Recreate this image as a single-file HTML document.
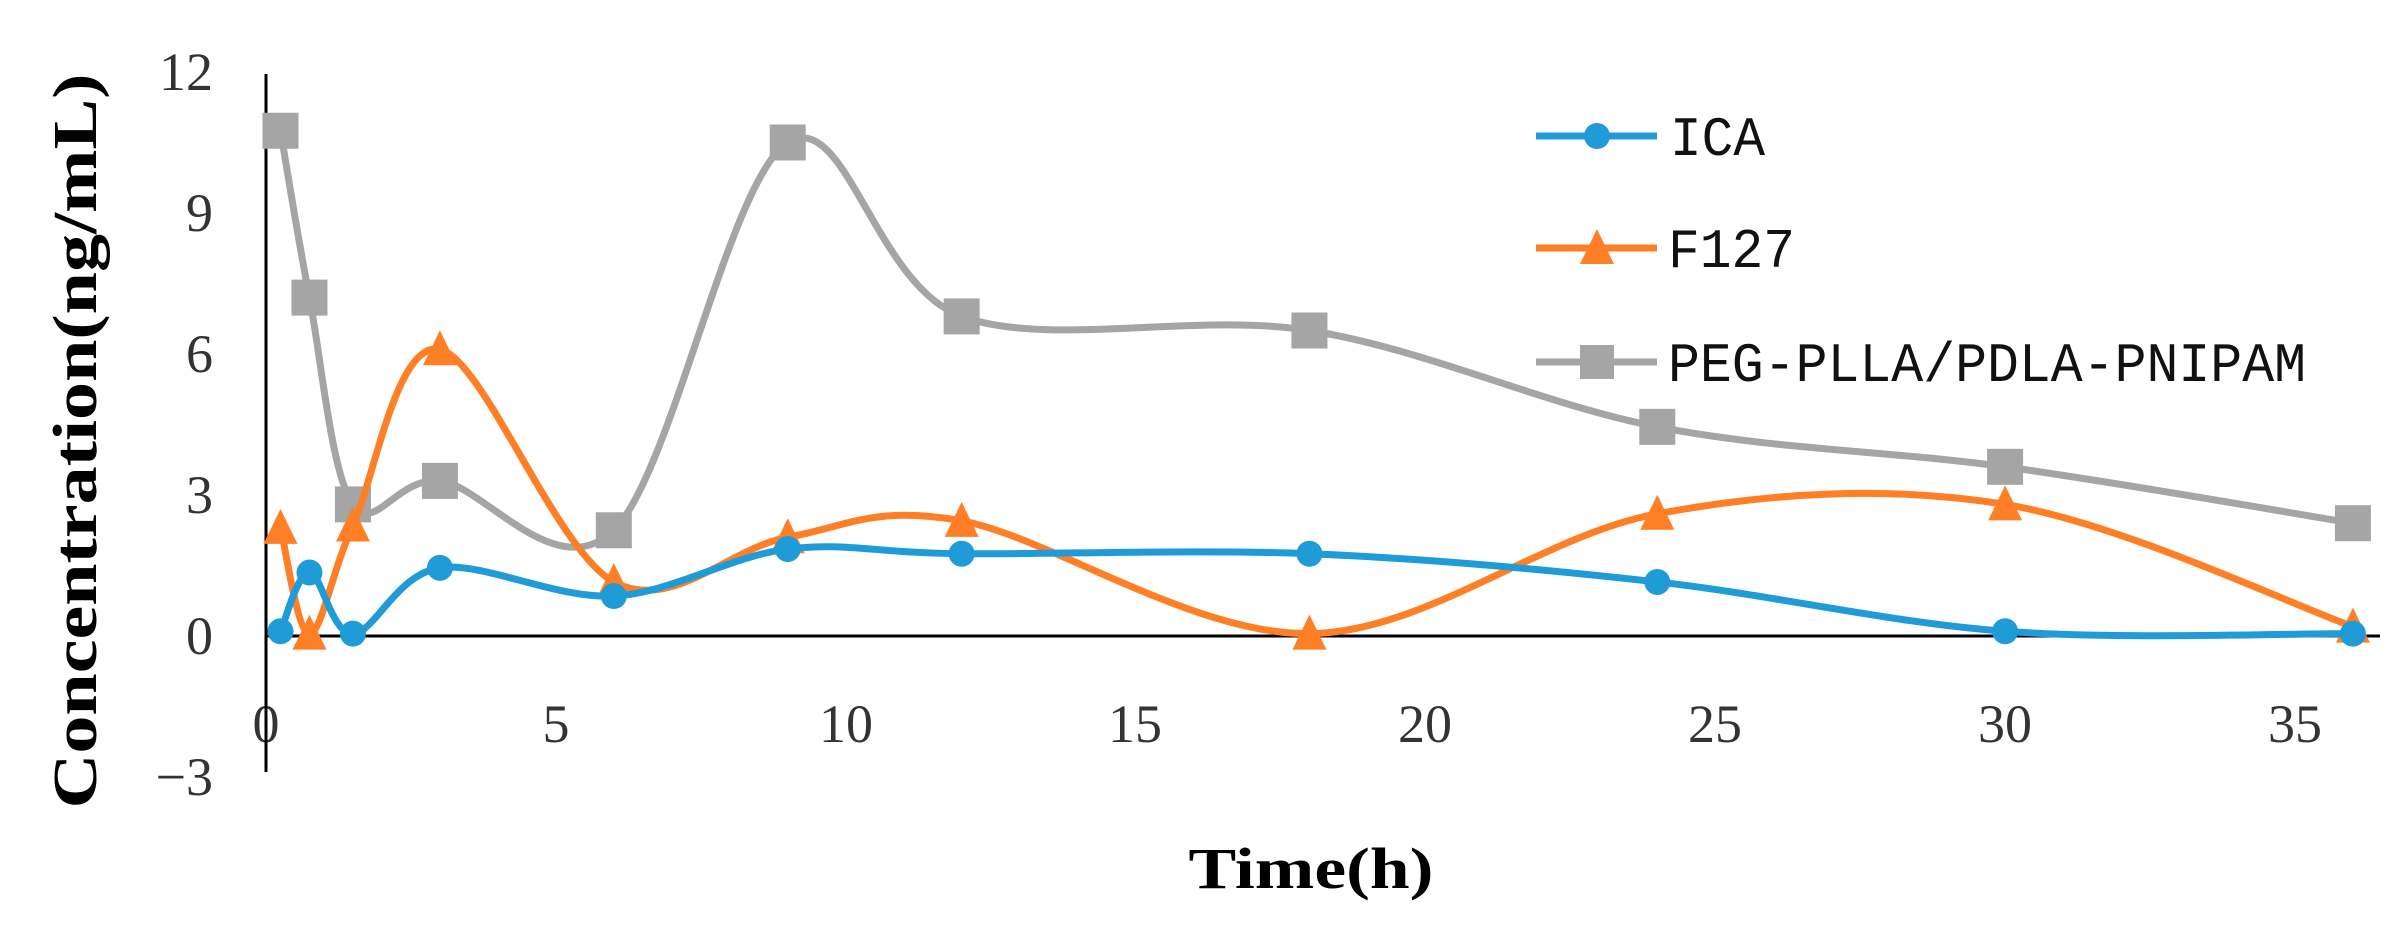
<!DOCTYPE html>
<html><head><meta charset="utf-8"><style>
html,body{margin:0;padding:0;background:#fff;}
svg{display:block;}
</style></head><body>
<svg id="c" width="2404" height="932" xmlns="http://www.w3.org/2000/svg">
<rect width="2404" height="932" fill="#fff"/>
<g font-family="Liberation Serif, serif" font-size="54" fill="#333">
<text x="213" y="90" text-anchor="end">12</text>
<text x="213" y="231" text-anchor="end">9</text>
<text x="213" y="372" text-anchor="end">6</text>
<text x="213" y="513" text-anchor="end">3</text>
<text x="213" y="654" text-anchor="end">0</text>
<text x="213" y="795" text-anchor="end">−3</text>
<text x="266" y="742" text-anchor="middle">0</text>
<text x="556" y="742" text-anchor="middle">5</text>
<text x="846" y="742" text-anchor="middle">10</text>
<text x="1135" y="742" text-anchor="middle">15</text>
<text x="1425" y="742" text-anchor="middle">20</text>
<text x="1715" y="742" text-anchor="middle">25</text>
<text x="2005" y="742" text-anchor="middle">30</text>
<text x="2295" y="742" text-anchor="middle">35</text>
</g>
<text x="1311" y="888" text-anchor="middle" font-family="Liberation Serif, serif" font-weight="bold" font-size="58" textLength="245" lengthAdjust="spacingAndGlyphs">Time(h)</text>
<text transform="translate(96,441) rotate(-90)" text-anchor="middle" font-family="Liberation Serif, serif" font-weight="bold" font-size="62" textLength="735" lengthAdjust="spacingAndGlyphs">Concentration(ng/mL)</text>
<line x1="266" y1="74" x2="266" y2="772" stroke="#000" stroke-width="3"/>
<line x1="266" y1="636" x2="2380" y2="636" stroke="#000" stroke-width="3"/>
<g id="series"></g>
<g font-family="Liberation Mono, monospace" font-size="56" fill="#111">
<line x1="1536" y1="136" x2="1657" y2="136" stroke="#1f9bd7" stroke-width="7"/>
<circle cx="1597" cy="136" r="13" fill="#1f9bd7"/>
<text x="1670" y="155" textLength="95" lengthAdjust="spacingAndGlyphs">ICA</text>
<line x1="1536" y1="248" x2="1657" y2="248" stroke="#ff7f27" stroke-width="7"/>
<polygon points="1597,229 1580,264 1614,264" fill="#ff7f27"/>
<text x="1668" y="267" textLength="127" lengthAdjust="spacingAndGlyphs">F127</text>
<line x1="1536" y1="362" x2="1657" y2="362" stroke="#a5a5a5" stroke-width="7"/>
<rect x="1580" y="345" width="34" height="34" fill="#a5a5a5"/>
<text x="1668" y="381" textLength="638" lengthAdjust="spacingAndGlyphs">PEG-PLLA/PDLA-PNIPAM</text>
</g>
</svg>
<script>
(function(){
var xs=[0.25,0.75,1.5,3,6,9,12,18,24,30,36];
var S=[
 {c:"#a5a5a5",m:"s",v:[10.75,7.2,2.8,3.3,2.25,10.5,6.8,6.5,4.45,3.6,2.4]},
 {c:"#ff7f27",m:"t",v:[2.3,0.05,2.35,6.1,1.15,2.1,2.45,0.05,2.6,2.8,0.2]},
 {c:"#1f9bd7",m:"c",v:[0.1,1.35,0.05,1.45,0.85,1.85,1.75,1.75,1.15,0.1,0.05]}
];
function X(x){return 266+x*57.97;}
function Y(v){return 636-v*47;}
var g=document.getElementById("series"),out="";
S.forEach(function(s){
 var p=xs.map(function(x,i){return [X(x),Y(s.v[i])];});
 var d="M"+p[0][0]+","+p[0][1];
 var t=1/6;
 for(var i=0;i<p.length-1;i++){
  var p0=p[i-1]||p[i],p1=p[i],p2=p[i+1],p3=p[i+2]||p[i+1];
  var c1=[p1[0]+(p2[0]-p0[0])*t,p1[1]+(p2[1]-p0[1])*t];
  var c2=[p2[0]-(p3[0]-p1[0])*t,p2[1]-(p3[1]-p1[1])*t];
  d+=" C"+c1[0]+","+c1[1]+" "+c2[0]+","+c2[1]+" "+p2[0]+","+p2[1];
 }
 out+='<path d="'+d+'" fill="none" stroke="'+s.c+'" stroke-width="7" stroke-linejoin="round"/>';
 p.forEach(function(q){
  if(s.m=="c")out+='<circle cx="'+q[0]+'" cy="'+q[1]+'" r="13" fill="'+s.c+'"/>';
  else if(s.m=="s")out+='<rect x="'+(q[0]-18)+'" y="'+(q[1]-18)+'" width="36" height="36" fill="'+s.c+'"/>';
  else out+='<polygon points="'+q[0]+','+(q[1]-19)+' '+(q[0]-17)+','+(q[1]+16)+' '+(q[0]+17)+','+(q[1]+16)+'" fill="'+s.c+'"/>';
 });
});
g.innerHTML=out;
})();
</script>
</body></html>
